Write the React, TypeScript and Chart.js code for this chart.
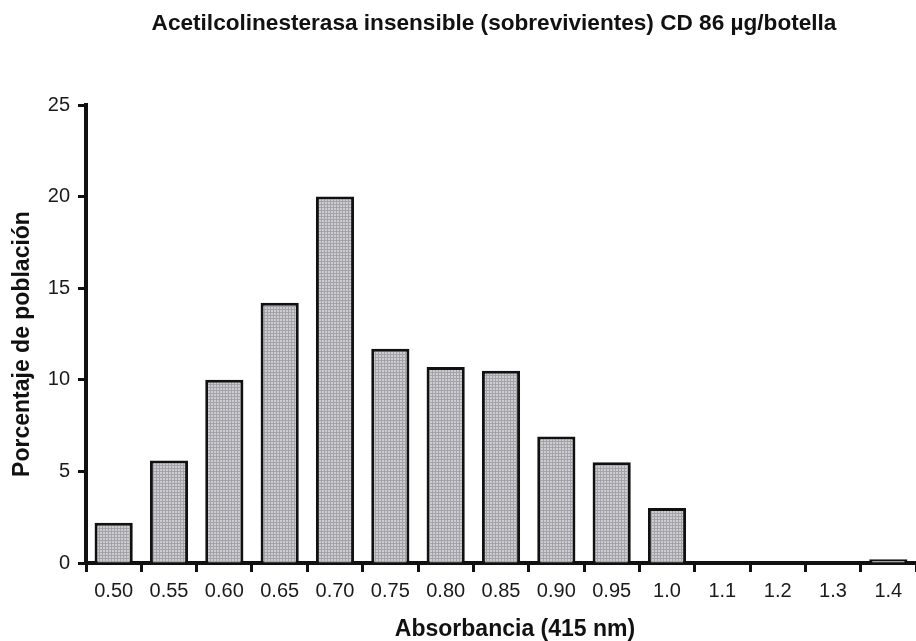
import { useEffect, useRef } from "react";
import { Chart, registerables } from "chart.js";

Chart.register(...registerables);

// Absorbance classes (415 nm) and share of the surviving population in each
const absorbanceLabels = [
  "0.50", "0.55", "0.60", "0.65", "0.70", "0.75", "0.80", "0.85",
  "0.90", "0.95", "1.0", "1.1", "1.2", "1.3", "1.4",
];
const populationPercent = [2.2, 5.6, 10.0, 14.2, 20.0, 11.7, 10.7, 10.5, 6.9, 5.5, 3.0, 0, 0, 0, 0.2];

const yMin = 0;
const yMax = 25;
const yStep = 5;

const titleText = "Acetilcolinesterasa insensible (sobrevivientes) CD 86 \u00b5g/botella";
const xTitleText = "Absorbancia (415 nm)";
const yTitleText = "Porcentaje de poblaci\u00f3n";

const FONT = "'Liberation Sans', Arial, Helvetica, sans-serif";

// Fine stippled grey fill used for the histogram bars
function makeStipple(): CanvasPattern | string {
  const c = document.createElement("canvas");
  c.width = 3;
  c.height = 3;
  const g = c.getContext("2d");
  if (!g) return "#c4c4c8";
  g.fillStyle = "#cdcdd1";
  g.fillRect(0, 0, 3, 3);
  g.fillStyle = "#a3a3a9";
  g.fillRect(0, 0, 3, 1);
  g.fillRect(0, 0, 1, 3);
  const p = g.createPattern(c, "repeat");
  return p || "#c4c4c8";
}

// Title and axis titles, placed freely around the plot
const textPlugin = {
  id: "histTexts",
  afterDraw(chart: Chart) {
    const ctx = chart.ctx;
    ctx.save();
    ctx.fillStyle = "#111";
    ctx.textAlign = "center";
    ctx.textBaseline = "middle";
    ctx.font = `bold 22.6px ${FONT}`;
    ctx.fillText(titleText, 494, 24);
    ctx.font = `bold 23px ${FONT}`;
    ctx.fillText(xTitleText, 515, 630);
    ctx.translate(23, 344);
    ctx.rotate(-Math.PI / 2);
    ctx.fillText(yTitleText, 0, 0);
    ctx.restore();
  },
};

export default function App() {
  const canvasRef = useRef<HTMLCanvasElement | null>(null);

  useEffect(() => {
    const canvas = canvasRef.current;
    if (!canvas) return;
    const chart = new Chart(canvas, {
      type: "bar",
      data: {
        labels: absorbanceLabels,
        datasets: [
          {
            data: populationPercent,
            backgroundColor: makeStipple() as any,
            borderColor: "#111",
            borderWidth: 3,
            categoryPercentage: 1,
            barPercentage: 0.69,
          },
        ],
      },
      options: {
        animation: false,
        responsive: false,
        maintainAspectRatio: false,
        layout: { padding: { top: 105, right: 0, left: 0, bottom: 0 } },
        plugins: {
          legend: { display: false },
          title: { display: false },
          tooltip: { enabled: false },
        },
        scales: {
          x: {
            z: 1,
            offset: true,
            grid: {
              offset: true,
              drawOnChartArea: false,
              drawTicks: true,
              tickLength: 9,
              tickWidth: 3,
              tickColor: "#111",
            },
            border: { display: true, color: "#111", width: 4 },
            ticks: {
              color: "#1a1a1a",
              padding: 7,
              maxRotation: 0,
              autoSkip: false,
              font: { family: FONT, size: 20 },
            },
            afterFit(scale: any) {
              scale.height = 78;
            },
          },
          y: {
            z: 1,
            min: yMin,
            max: yMax,
            grid: {
              drawOnChartArea: false,
              drawTicks: true,
              tickLength: 8,
              tickWidth: 3,
              tickColor: "#111",
            },
            border: { display: true, color: "#111", width: 4 },
            ticks: {
              stepSize: yStep,
              color: "#1a1a1a",
              padding: 8,
              font: { family: FONT, size: 20 },
            },
            afterFit(scale: any) {
              scale.width = 86;
            },
          },
        },
      },
      plugins: [textPlugin],
    });
    return () => chart.destroy();
  }, []);

  return (
    <div style={{ position: "fixed", left: 0, top: 0, width: 916, height: 641, background: "#fff" }}>
      <canvas ref={canvasRef} width={916} height={641} style={{ display: "block" }} />
    </div>
  );
}
